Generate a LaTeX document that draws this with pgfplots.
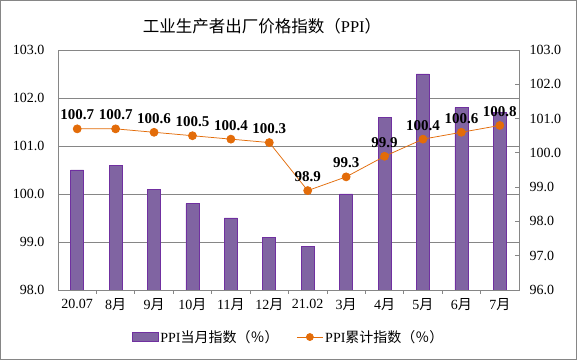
\documentclass[border=0pt]{standalone}
\usepackage{fontspec}
\setmainfont{Liberation Serif}
\newfontfamily\cjk{Noto Sans CJK SC}
\usepackage{pgfplots}
\pgfplotsset{compat=1.18}
\definecolor{barfill}{HTML}{8064A2}
\definecolor{baredge}{HTML}{7030A0}
\definecolor{lineor}{HTML}{E36C09}
\definecolor{gridg}{HTML}{868686}
\newcommand{\tickfont}{\fontsize{14bp}{16bp}\selectfont}
\begin{document}
\begin{tikzpicture}
\fill[white] (0bp,0bp) rectangle (577bp,360bp);
\draw[gridg, line width=1bp] (0.5bp,0.5bp) rectangle (576.5bp,359.5bp);
\node[font=\fontsize{16.5bp}{19bp}\selectfont] at (262bp,334bp) {{\cjk 工业生产者出厂价格指数（}PPI{\cjk ）}};
\begin{axis}[at={(58bp,70bp)}, anchor=south west, scale only axis,
  width=461bp, height=240bp,
  xmin=-0.5, xmax=11.5, ymin=98, ymax=103,
  ytick={98,...,103},
  axis line style={gridg, line width=0.75bp},
  ymajorgrids, grid style={gridg, line width=0.75bp},
  xtick={0,...,11},
  xticklabels={20.07, 8{\cjk 月}, 9{\cjk 月}, 10{\cjk 月}, 11{\cjk 月}, 12{\cjk 月}, 21.02, 3{\cjk 月}, 4{\cjk 月}, 5{\cjk 月}, 6{\cjk 月}, 7{\cjk 月}},
  major x tick style={draw=none},
  minor xtick={0.5,1.5,...,10.5},
  minor x tick style={gridg, line width=0.75bp},
  minor tick length=4bp,
  tick align=inside,
  xtick pos=bottom,
  ytick style={draw=none},
  ticklabel style={font=\tickfont},
  yticklabel style={/pgf/number format/.cd, fixed, fixed zerofill, precision=1, assume math mode=true},
  yticklabel shift=10bp,
  xticklabel shift=1bp,
  ybar, bar width=13bp,
]
\addplot[fill=barfill, draw=baredge, line width=0.75bp] coordinates {
(0,100.5) (1,100.6) (2,100.1) (3,99.8) (4,99.5) (5,99.1)
(6,98.9) (7,100.0) (8,101.6) (9,102.5) (10,101.8) (11,101.7)};
\end{axis}
\begin{axis}[at={(58bp,70bp)}, anchor=south west, scale only axis,
  width=461bp, height=240bp,
  xmin=-0.5, xmax=11.5, ymin=96, ymax=103,
  axis y line*=right, axis x line=none,
  axis line style={gridg, line width=0.75bp},
  ytick={96,...,103},
  ytick style={gridg, line width=0.75bp},
  major tick length=4bp,
  tick align=inside,
  ticklabel style={font=\tickfont},
  yticklabel style={/pgf/number format/.cd, fixed, fixed zerofill, precision=1, assume math mode=true},
  yticklabel shift=7bp,
  legend style={at={(0.5,-0.196)}, anchor=center, legend columns=2, draw=none, fill=none,
    font=\tickfont, /tikz/every even column/.append style={column sep=16bp}},
  legend cell align=left,
]
\addlegendimage{legend image code/.code={\draw[fill=barfill, draw=baredge, line width=0.75bp] (0bp,-4.5bp) rectangle (26bp,4.5bp);}}
\addlegendentry{PPI{\cjk 当月指数（％）}}
\addplot[lineor, line width=0.75bp, mark=*, mark size=4bp,
  mark options={fill=lineor, draw=lineor},
  legend image code/.code={\draw[lineor, line width=0.75bp] (0bp,0bp) -- (26bp,0bp); \fill[lineor] (13bp,0bp) circle (3.5bp);},
  nodes near coords={\pgfmathprintnumber[fixed, fixed zerofill, precision=1, assume math mode=true]{\pgfplotspointmeta}},
  every node near coord/.append style={font=\bfseries\fontsize{15bp}{17bp}\selectfont, text=black, anchor=south, yshift=5bp},
] coordinates {
(0,100.7) (1,100.7) (2,100.6) (3,100.5) (4,100.4) (5,100.3)
(6,98.9) (7,99.3) (8,99.9) (9,100.4) (10,100.6) (11,100.8)};
\addlegendentry{PPI{\cjk 累计指数（％）}}
\end{axis}
\end{tikzpicture}
\end{document}
